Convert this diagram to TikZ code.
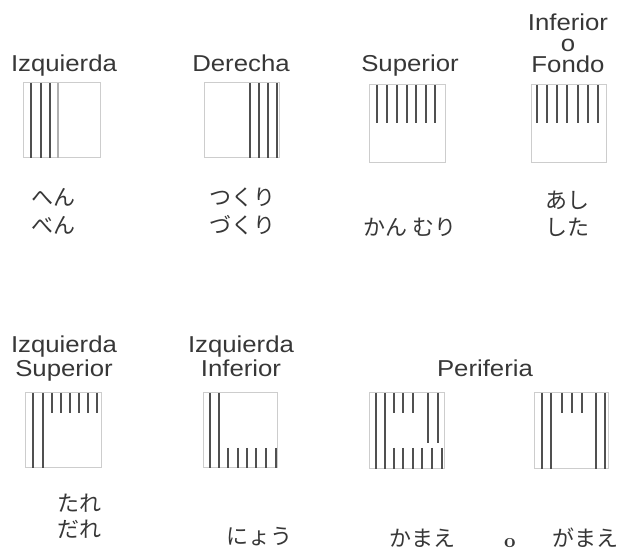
\documentclass[tikz,border=0pt]{standalone}
\usepackage{fontspec}
\setsansfont{Liberation Sans}[FakeStretch=1.12]
\newfontfamily\jp{Noto Sans CJK JP}
\usepackage{tikz}
\definecolor{ink}{RGB}{80,80,80}
\definecolor{edge}{RGB}{205,205,205}
\definecolor{txt}{RGB}{55,55,55}

\begin{document}
\begin{tikzpicture}[x=0.5pt,y=-0.5pt,
 fr/.style={draw=edge,line width=0.5pt},
 bar/.style={draw=ink,line width=1.3pt},
 lab/.style={font=\sffamily\fontsize{11.5}{12}\selectfont,text=txt,inner sep=0pt,anchor=base},
 kn/.style={font=\jp\fontsize{11}{12}\selectfont,text=txt,inner sep=0pt}]
 \useasboundingbox (0,0) rectangle (629,550);
 % labels
 \node[lab] (izq) at (64,72) {Izquierda};
 \node[lab] (der) at (241,72) {Derecha};
 \node[lab] (sup) at (410,72) {Superior};
 \node[lab] (inf) at (568,31) {Inferior};
 \node[lab] (inf-o) at (568,52) {o};
 \node[lab] (inf-f) at (568,73) {Fondo};
 \node[lab] (izqs) at (64,353) {Izquierda};
 \node[lab] (izqs-b) at (64,377) {Superior};
 \node[lab] (izqi) at (241,353) {Izquierda};
 \node[lab] (izqi-b) at (241,377) {Inferior};
 \node[lab] (per) at (485,377) {Periferia};
 % boxes, top row
 \draw[fr] (24,83) rectangle (101,158);
 \foreach \x in {31,41,50} \draw[bar] (\x,83) -- (\x,158);
 \draw[bar,draw=ink!45,line width=0.6pt] (58,83) -- (58,158);
 \draw[fr] (205,83) rectangle (280,158);
 \foreach \x in {250,259,268,277} \draw[bar] (\x,83) -- (\x,158);
 \draw[fr] (370,85) rectangle (446,163);
 \foreach \x in {377,387,397,407,416,426,435} \draw[bar] (\x,85) -- (\x,123);
 \draw[fr] (532,85) rectangle (607,163);
 \foreach \x in {537,547,557,567,578,588,598} \draw[bar] (\x,85) -- (\x,123);
 % boxes, bottom row
 \draw[fr] (26,393) rectangle (102,468);
 \foreach \x in {33,43} \draw[bar] (\x,393) -- (\x,468);
 \foreach \x in {52,61,70,79,88,97} \draw[bar] (\x,393) -- (\x,413);
 \draw[fr] (204,393) rectangle (278,468);
 \foreach \x in {210,219} \draw[bar] (\x,393) -- (\x,468);
 \foreach \x in {228,238,247,256,266,276} \draw[bar] (\x,448) -- (\x,468);
 \draw[fr] (370,393) rectangle (445,469);
 \foreach \x in {376,385} \draw[bar] (\x,393) -- (\x,469);
 \foreach \x in {394,403,413} \draw[bar] (\x,393) -- (\x,413);
 \foreach \x in {428,438} \draw[bar] (\x,393) -- (\x,443);
 \foreach \x in {394,403,413,422,432,442} \draw[bar] (\x,448) -- (\x,469);
 \draw[fr] (535,393) rectangle (609,469);
 \foreach \x in {542,551,596,605} \draw[bar] (\x,393) -- (\x,469);
 \foreach \x in {562,572,582} \draw[bar] (\x,393) -- (\x,413);
 % kana
 \node[kn] (hen) at (54,197) {へん};
 \node[kn] (ben) at (54,225) {べん};
 \node[kn] (tsukuri) at (243,197) {つくり};
 \node[kn] (dzukuri) at (243,225) {づくり};
 \node[kn] (kanmuri) at (410,227) {かん むり};
 \node[kn] (ashi) at (568,200) {あし};
 \node[kn] (shita) at (568,227) {した};
 \node[kn] (tare) at (80,503) {たれ};
 \node[kn] (dare) at (80,529) {だれ};
 \node[kn] (nyou) at (260,537) {にょう};
 \node[kn] (kamae) at (423,538) {かまえ};
 \node[font=\rmfamily\bfseries\fontsize{10}{12}\selectfont,text=txt,inner sep=0pt] (o) at (510,543) {o};
 \node[kn] (gamae) at (586,538) {がまえ};
\end{tikzpicture}
\end{document}
